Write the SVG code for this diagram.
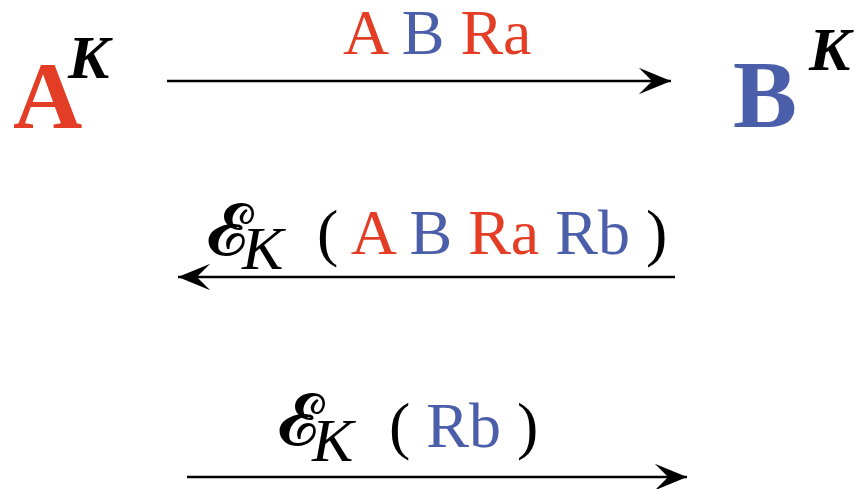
<svg xmlns="http://www.w3.org/2000/svg" width="855" height="489" viewBox="0 0 855 489">
<defs>
<marker id="ah" markerUnits="userSpaceOnUse" markerWidth="40" markerHeight="40" viewBox="-32 -16 36 32" refX="0" refY="0" orient="auto">
<path d="M0,0 L-29,-12 L-17,0 L-29,12 Z" fill="#000"/>
</marker>
</defs>
<g id="nodeA">
<text x="13" y="128" font-family="'Liberation Serif', serif" font-size="96" font-weight="bold" fill="#E43D26">A</text>
<text x="68" y="78" font-family="'Liberation Serif', serif" font-size="62" font-weight="bold" font-style="italic" fill="#000">K</text>
</g>
<g id="nodeB">
<text x="733" y="127" font-family="'Liberation Serif', serif" font-size="96" font-weight="bold" fill="#4B5EA9">B</text>
<text x="809" y="70" font-family="'Liberation Serif', serif" font-size="62" font-weight="bold" font-style="italic" fill="#000">K</text>
</g>
<g id="connectors" stroke="#000" stroke-width="2.6" fill="none">
<line x1="167" y1="81" x2="671" y2="81" marker-end="url(#ah)"/>
<line x1="675" y1="277" x2="178" y2="277" marker-end="url(#ah)"/>
<line x1="187" y1="477" x2="687" y2="477" marker-end="url(#ah)"/>
</g>
<g id="labels">
<text x="343" y="54" font-family="'Liberation Serif', serif" font-size="64"><tspan fill="#E43D26">A</tspan><tspan fill="#4B5EA9"> B</tspan><tspan fill="#E43D26"> Ra</tspan></text>
<text x="206" y="255" font-family="'Liberation Serif', serif" font-size="72" fill="#000">𝓔</text>
<text x="242" y="269" font-family="'Liberation Serif', serif" font-size="62" font-style="italic" fill="#000">K</text>
<text x="317" y="254" font-family="'Liberation Serif', serif" font-size="64"><tspan fill="#000">(</tspan><tspan fill="#E43D26"> A</tspan><tspan fill="#4B5EA9"> B</tspan><tspan fill="#E43D26"> Ra</tspan><tspan fill="#4B5EA9"> Rb</tspan><tspan fill="#000"> )</tspan></text>
<text x="277" y="445" font-family="'Liberation Serif', serif" font-size="72" fill="#000">𝓔</text>
<text x="312" y="461" font-family="'Liberation Serif', serif" font-size="62" font-style="italic" fill="#000">K</text>
<text x="389" y="447" font-family="'Liberation Serif', serif" font-size="64"><tspan fill="#000">(</tspan><tspan fill="#4B5EA9"> Rb</tspan><tspan fill="#000"> )</tspan></text>
</g>
</svg>
